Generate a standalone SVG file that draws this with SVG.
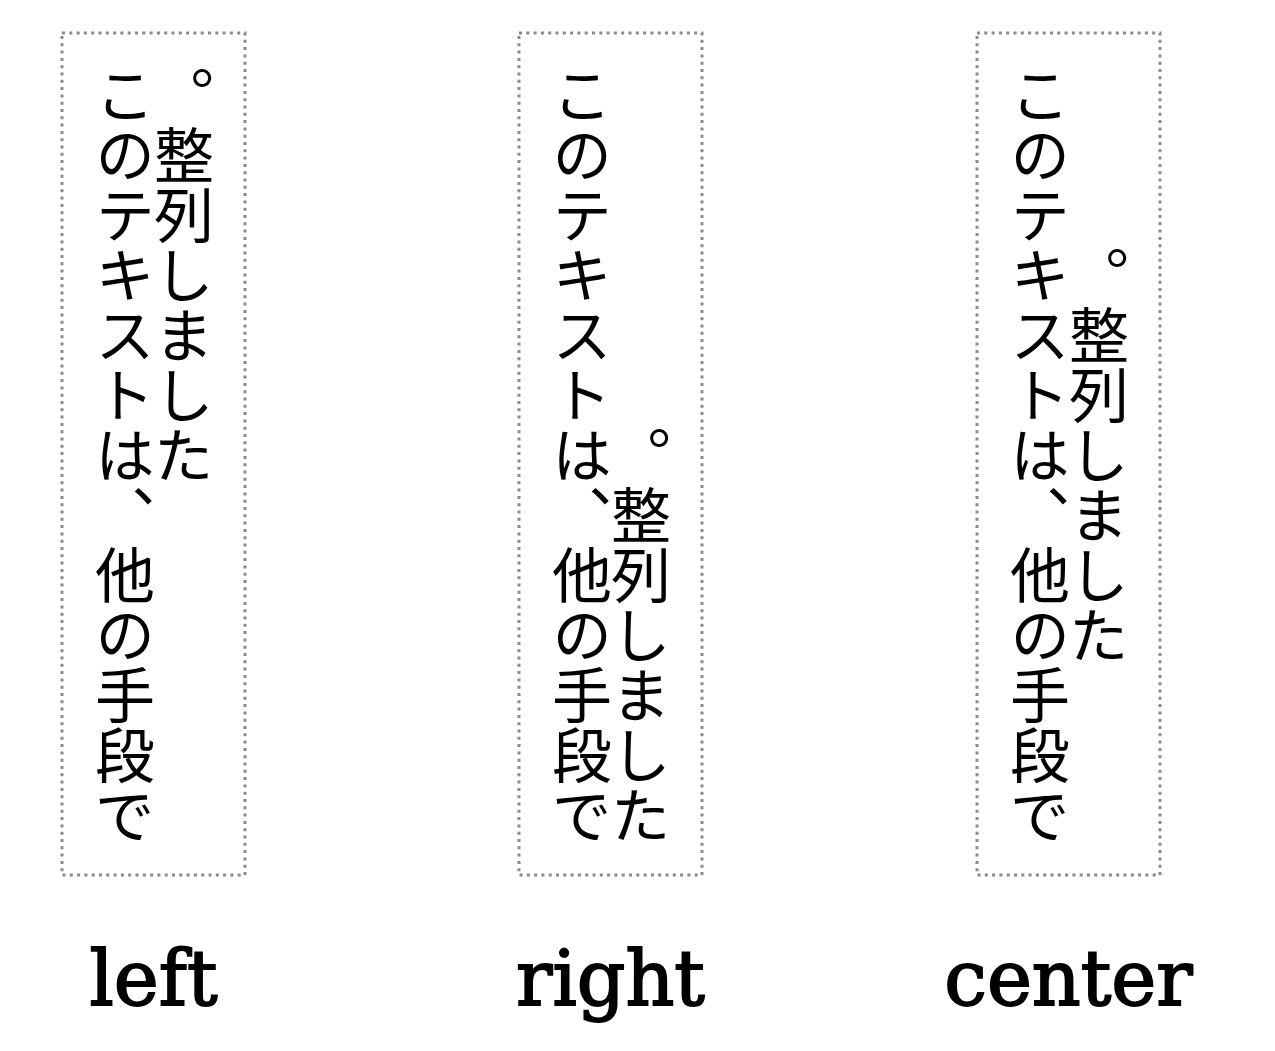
<svg xmlns="http://www.w3.org/2000/svg" width="1275" height="1051" viewBox="0 0 1275 1051">
<style>
.box{fill:none;stroke:#8a8a8a;stroke-width:3;stroke-dasharray:3 4.3}
.jp{font-family:"Noto Sans CJK JP","Noto Sans CJK SC",sans-serif;font-size:60px;fill:#000;writing-mode:vertical-rl;text-orientation:upright}
.lbl{font-family:"DejaVu Serif","Liberation Serif",serif;font-size:76px;fill:#000;stroke:#000;stroke-width:1.8;text-anchor:middle}
</style>
<rect width="1275" height="1051" fill="#fff"/>
<g id="node-left">
<rect class="box" x="62" y="33" width="183" height="842"/>
<text class="jp" x="125" y="65" text-anchor="start">このテキストは、他の手段で</text>
<text class="jp" x="184" y="65" text-anchor="start">。整列しました</text>
<text class="lbl" x="153.5" y="1005">left</text>
</g>
<g id="node-right">
<rect class="box" x="519" y="33" width="183" height="842"/>
<text class="jp" x="582" y="65" text-anchor="start">このテキストは、他の手段で</text>
<text class="jp" x="641" y="845" text-anchor="end">。整列しました</text>
<text class="lbl" x="610.5" y="1005">right</text>
</g>
<g id="node-center">
<rect class="box" x="977" y="33" width="183" height="842"/>
<text class="jp" x="1040" y="65" text-anchor="start">このテキストは、他の手段で</text>
<text class="jp" x="1099" y="455" text-anchor="middle">。整列しました</text>
<text class="lbl" x="1068.5" y="1005">center</text>
</g>
<g id="connectors"/>
</svg>
